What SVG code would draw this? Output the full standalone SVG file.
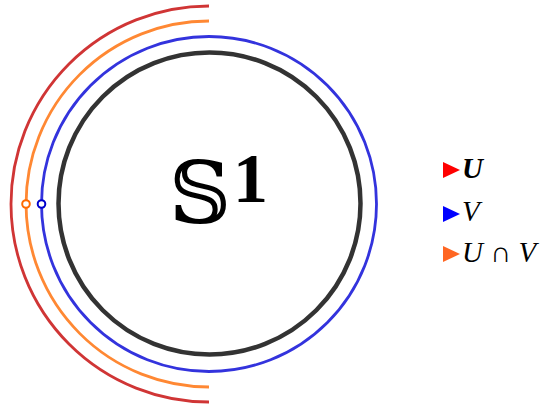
<svg xmlns="http://www.w3.org/2000/svg" width="540" height="407" viewBox="0 0 540 407">
<style>
.arc{fill:none;stroke-linecap:butt}
.lg{font-family:"Liberation Serif",serif;font-style:italic;font-size:29px;fill:#000}
</style>
<rect width="540" height="407" fill="#fff"/>
<g id="circle-S1">
<circle cx="209.5" cy="203.5" r="151" fill="none" stroke="#333" stroke-width="4.5"/>
<text x="169" y="223" font-family="DejaVu Serif,DejaVu Sans,serif" font-size="86" fill="#000">𝕊</text>
<text x="233" y="202" font-family="Liberation Serif,serif" font-weight="bold" font-size="70" fill="#000">1</text>
</g>
<g id="set-V">
<circle cx="209" cy="204" r="167.5" class="arc" stroke="#3333dd" stroke-width="2.8"/>
</g>
<g id="set-UV">
<path d="M209 21 A183 183 0 0 0 209 387" class="arc" stroke="#ff8833" stroke-width="2.8"/>
</g>
<g id="set-U">
<path d="M209 6 A198 198 0 0 0 209 402" class="arc" stroke="#d03535" stroke-width="2.8"/>
</g>
<g id="points">
<circle cx="26" cy="204" r="3.8" fill="#fff" stroke="#ff6a00" stroke-width="2"/>
<circle cx="41.5" cy="204" r="3.8" fill="#fff" stroke="#0000cc" stroke-width="2"/>
</g>
<g id="legend">
<polygon points="443,162 460,170 443,178" fill="#ff0000"/>
<text x="462" y="178" class="lg" font-weight="bold">U</text>
<polygon points="443,206 460,214 443,222" fill="#0000ff"/>
<text x="462" y="221" class="lg">V</text>
<polygon points="443,246 460,254 443,262" fill="#ff6622"/>
<text x="462" y="262" class="lg">U <tspan font-style="normal">∩</tspan> V</text>
</g>
</svg>
